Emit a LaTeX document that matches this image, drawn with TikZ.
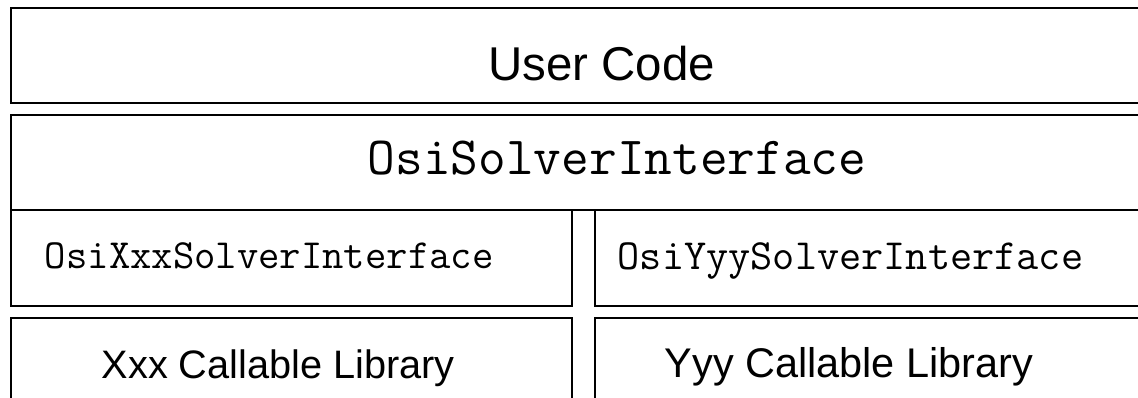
\documentclass[tikz,border=0pt]{standalone}
\usepackage{fontspec}
\setmainfont{Liberation Sans}
\usepackage{tikz}
\usetikzlibrary{positioning}
\tikzstyle{layer} = [line width=1.1pt, draw=black]
\tikzstyle{lbl} = [inner sep=0pt, anchor=base]
\def\fs(#1){\fontsize{#1}{#1}\selectfont}

\begin{document}
\begin{tikzpicture}[x=0.02cm, y=-0.02cm]
      \clip (0,0) rectangle (1138,398);
      %%%%%%%%%%%%%%%%%%%%%%%%%%%%%%%%%%%%%%%
      \draw[layer] (11,8) rectangle (1160,103);
      \draw[layer] (11,115) rectangle (1160,210);
      \draw[layer] (11,210) rectangle (572,306);
      \draw[layer] (595,210) rectangle (1160,306);
      \draw[layer] (11,318) rectangle (572,420);
      \draw[layer] (595,318) rectangle (1160,420);
      %%%%%%%%%%%%%%%%%%%%%%%%%%%%%%%%%%%%%%%
      \draw (601.5,80.7) node (user) [lbl] {\fs(27pt)User Code};
      \draw (617,175) node (osi) [lbl] {\fs(30.6pt)\ttfamily OsiSolverInterface};
      \draw (269.2,269) node (osixxx) [lbl] {\fs(23.6pt)\ttfamily OsiXxxSolverInterface};
      \draw (850.5,270) node (osiyyy) [lbl] {\fs(24.5pt)\ttfamily OsiYyySolverInterface};
      \draw (278.3,378) node (xxxlib) [lbl] {\fs(22.6pt)Xxx Callable Library};
      \draw (849,377) node (yyylib) [lbl] {\fs(23.6pt)Yyy Callable Library};
      %\draw (osi)--(osixxx);
\end{tikzpicture}
\end{document}
